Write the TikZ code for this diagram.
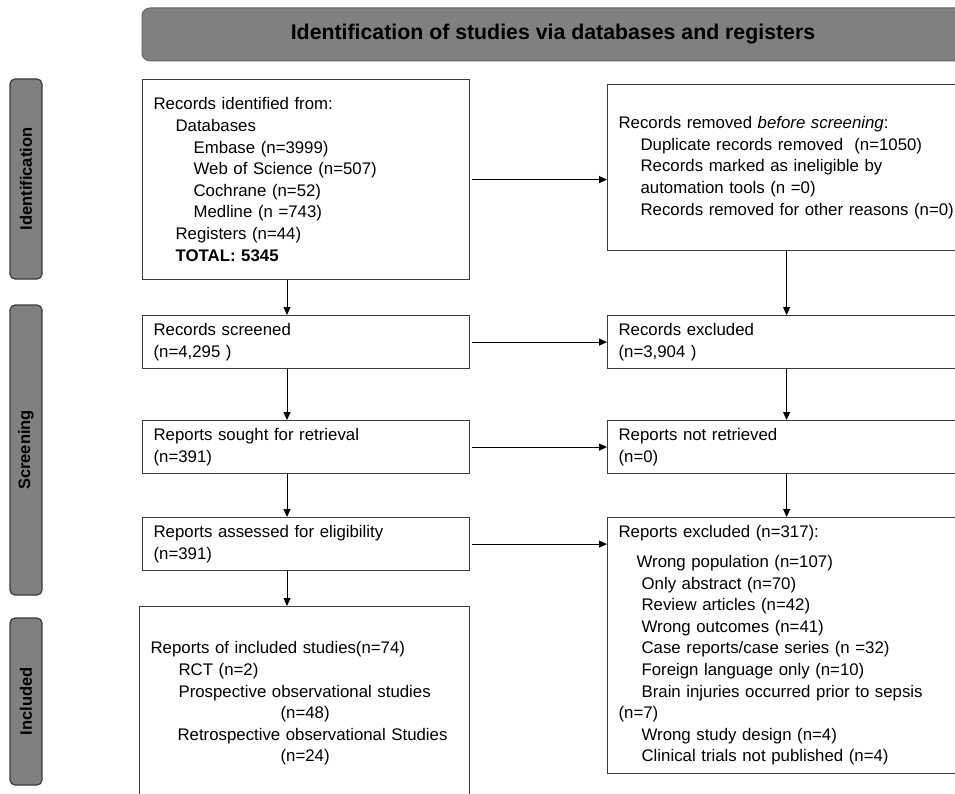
\documentclass[tikz,border=0pt]{standalone}
\usepackage{fontspec}
\setmainfont{Liberation Sans}
\usetikzlibrary{arrows.meta,calc}
\definecolor{hdrgray}{RGB}{128,128,128}
\definecolor{edgegray}{RGB}{60,60,60}
\begin{document}
\begin{tikzpicture}[x=1pt,y=-1pt,
  pbox/.style={draw=edgegray,line width=1.2pt,fill=white,rectangle,anchor=north west,
    inner xsep=11pt,inner ysep=0pt,align=left,font=\fontsize{16.8}{21.6}\selectfont},
  sidelab/.style={draw=edgegray,line width=1.2pt,fill=hdrgray,rounded corners=5pt,rotate=90,
    minimum height=32pt,inner sep=0pt,font=\fontsize{16.5}{19}\selectfont\bfseries},
  arr/.style={-{Triangle[length=8pt,width=7pt]},line width=1pt,black}]
\useasboundingbox (0,0) rectangle (955,794);
\clip (0,0) rectangle (955,794);

% header
\node[draw=hdrgray!80!black,line width=1pt,fill=hdrgray,rounded corners=8pt,
  minimum width=822pt,minimum height=53pt,inner sep=0pt,
  font=\fontsize{21.3}{24}\selectfont\bfseries] (hdr) at (553,34.5)
  {Identification of studies via databases and registers};

% side labels
\node[sidelab,minimum width=200pt] (sid) at (26,179) {Identification};
\node[sidelab,minimum width=290pt] (sscr) at (26,450) {Screening};
\node[sidelab,minimum width=167pt] (sinc) at (26,701.5) {Included};

% left column
\node[pbox,text width=305pt,minimum height=200pt] (b1) at (142,79)
  {Records identified from:\\
   \hspace*{22pt}Databases\\
   \hspace*{40pt}Embase (n=3999)\\
   \hspace*{40pt}Web of Science (n=507)\\
   \hspace*{40pt}Cochrane (n=52)\\
   \hspace*{40pt}Medline (n =743)\\
   \hspace*{22pt}Registers (n=44)\\
   \hspace*{22pt}\textbf{TOTAL: 5345}};
\node[pbox,text width=305pt,minimum height=53pt] (scr) at (142,315)
  {Records screened\\(n=4,295 )};
\node[pbox,text width=305pt,minimum height=53pt] (sou) at (142,420)
  {Reports sought for retrieval\\(n=391)};
\node[pbox,text width=305pt,minimum height=53pt] (ass) at (142,517)
  {Reports assessed for eligibility\\(n=391)};
\node[pbox,text width=308pt,minimum height=194pt] (inc) at (139,606)
  {Reports of included studies(n=74)\\
   \hspace*{28pt}RCT (n=2)\\
   \hspace*{28pt}Prospective observational studies\\
   \hspace*{130pt}(n=48)\\
   \hspace*{27pt}Retrospective observational Studies\\
   \hspace*{130pt}(n=24)};

% right column
\node[pbox,text width=336pt,minimum height=166pt] (rem) at (607,84)
  {Records removed \textit{before screening}:\\
   \hspace*{22pt}Duplicate records removed~~(n=1050)\\
   \hspace*{22pt}Records marked as ineligible by\\
   \hspace*{22pt}automation tools (n =0)\\
   \hspace*{22pt}Records removed for other reasons (n=0)};
\node[pbox,text width=336pt,minimum height=53pt] (exc) at (607,315)
  {Records excluded\\(n=3,904 )};
\node[pbox,text width=336pt,minimum height=53pt] (nret) at (607,420)
  {Reports not retrieved\\(n=0)};
\node[pbox,text width=336pt,minimum height=256pt] (rexc) at (607,517)
  {Reports excluded (n=317):\\[8pt]
   \hspace*{18pt}Wrong population (n=107)\\
   \hspace*{23pt}Only abstract (n=70)\\
   \hspace*{23pt}Review articles (n=42)\\
   \hspace*{23pt}Wrong outcomes (n=41)\\
   \hspace*{23pt}Case reports/case series (n =32)\\
   \hspace*{23pt}Foreign language only (n=10)\\
   \hspace*{23pt}Brain injuries occurred prior to sepsis\\
   (n=7)\\
   \hspace*{23pt}Wrong study design (n=4)\\
   \hspace*{23pt}Clinical trials not published (n=4)};

% connectors
\coordinate (lx) at (287,0);
\draw[arr] (b1.south -| lx) -- (scr.north -| lx);
\draw[arr] (scr.south -| lx) -- (sou.north -| lx);
\draw[arr] (sou.south -| lx) -- (ass.north -| lx);
\draw[arr] (ass.south -| lx) -- (inc.north -| lx);

\draw[arr] (rem.south) -- (exc.north);
\draw[arr] (exc.south) -- (nret.north);
\draw[arr] (nret.south) -- (rexc.north);

\draw[arr] ($(b1.east)+(2,0)$) -- (rem.west |- b1.east);
\draw[arr] ($(scr.east)+(2,0)$) -- (exc.west |- scr.east);
\draw[arr] ($(sou.east)+(2,0)$) -- (nret.west |- sou.east);
\draw[arr] ($(ass.east)+(2,0)$) -- (rexc.west |- ass.east);
\end{tikzpicture}
\end{document}
